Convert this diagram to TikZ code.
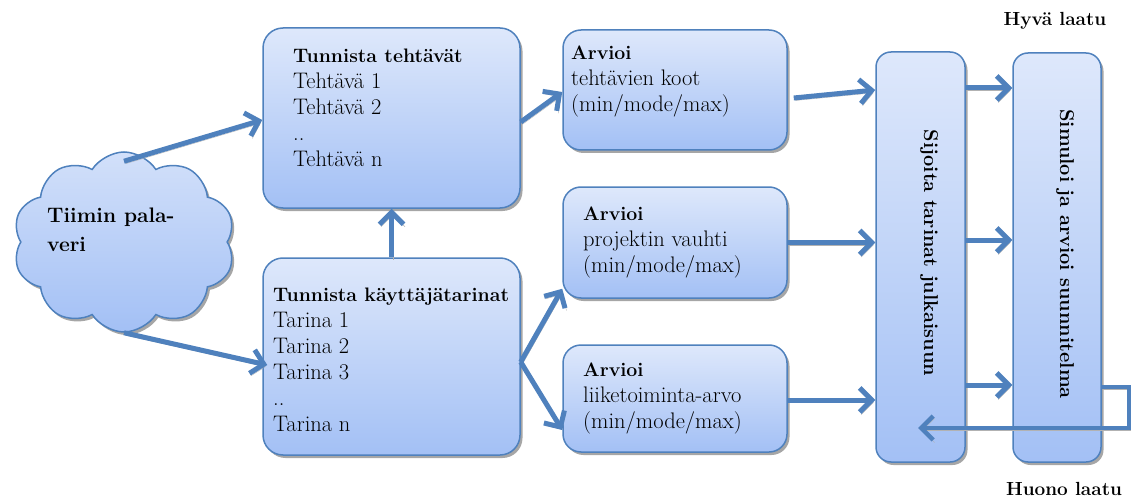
\documentclass[tikz,border=0pt]{standalone}
\usetikzlibrary{arrows.meta,shapes.symbols,shadows}
\definecolor{edgeblue}{RGB}{79,129,189}
\definecolor{topfill}{RGB}{222,232,251}
\definecolor{botfill}{RGB}{163,192,245}
\newcommand{\hd}[1]{{\fontsize{19.5}{26}\selectfont\bfseries #1}}
\tikzset{
  box/.style={draw=edgeblue, line width=1.5pt, rounded corners=#1, top color=topfill, bottom color=botfill,
    drop shadow={shadow xshift=2.5pt, shadow yshift=-3pt, fill=black, opacity=0.35}, inner sep=0pt},
  box/.default=18pt,
  txt/.style={anchor=north west, inner sep=0pt, align=left, font=\fontsize{22.5}{26}\selectfont},
  vtxt/.style={rotate=-90, inner sep=0pt, font=\fontsize{20}{24}\selectfont\bfseries},
  lbl/.style={inner sep=0pt, font=\fontsize{19}{22}\selectfont\bfseries},
  arr/.style={draw=edgeblue, line width=5pt, -{Straight Barb[length=12pt,width=24pt]},
    preaction={draw=black!30, transform canvas={shift={(1.5pt,-2.5pt)}}}},
  fbarr/.style={draw=edgeblue, line width=4.5pt, -{Straight Barb[length=12pt,width=24pt]},
    preaction={draw=black!30, transform canvas={shift={(1.5pt,-2.5pt)}}}},
}
\begin{document}
\begin{tikzpicture}[x=1pt,y=-1pt]
\useasboundingbox (0,0) rectangle (1135,500);
% cloud
\node[cloud, cloud puffs=10, cloud puff arc=115, aspect=1.2, draw=edgeblue, line width=1.5pt,
  top color=topfill!80!botfill, bottom color=botfill, minimum width=222pt, minimum height=180pt,
  drop shadow={shadow xshift=2.5pt, shadow yshift=-3pt, fill=black, opacity=0.35}] (cl) at (124,242) {};
\node[txt, font=\fontsize{21}{29}\selectfont\bfseries] (clt) at (47,208) {Tiimin pala-\\veri};
% boxes
\node[box=20pt, minimum width=257pt, minimum height=180pt] (b1) at (391.5,118) {};
\node[box=20pt, minimum width=257pt, minimum height=197pt] (b2) at (391.5,356.5) {};
\node[box, minimum width=224pt, minimum height=120pt] (b3) at (675,90) {};
\node[box, minimum width=224pt, minimum height=111pt] (b4) at (675,242.5) {};
\node[box, minimum width=224pt, minimum height=107pt] (b5) at (675,398.5) {};
\node[box=15pt, minimum width=89pt, minimum height=410pt] (b6) at (920.5,257) {};
\node[box=15pt, minimum width=88pt, minimum height=409pt] (b7) at (1057,257.5) {};
% texts
\node[txt] (t1) at (293,49) {\hd{Tunnista tehtävät}\\Tehtävä 1\\Tehtävä 2\\..\\Tehtävä n};
\node[txt] (t2) at (273,288) {\hd{Tunnista käyttäjätarinat}\\Tarina 1\\Tarina 2\\Tarina 3\\..\\Tarina n};
\node[txt] (t3) at (571,46) {\hd{Arvioi}\\tehtävien koot\\(min/mode/max)};
\node[txt] (t4) at (583,207) {\hd{Arvioi}\\projektin vauhti\\(min/mode/max)};
\node[txt] (t5) at (583,363) {\hd{Arvioi}\\liiketoiminta-arvo\\(min/mode/max)};
\node[vtxt] (t6) at (929,253) {Sijoita tarinat julkaisuun};
\node[vtxt] (t7) at (1065,254) {Simuloi ja arvioi suunnitelma};
\node[lbl] (hy) at (1055,21) {Hyvä laatu};
\node[lbl] (hu) at (1064,489) {Huono laatu};
% arrows
\draw[arr] ([yshift=-10pt]cl.north) -- ([yshift=-2pt]b1.west);
\draw[arr] (cl.south) -- ([xshift=5pt,yshift=-8.5pt]b2.west);
\draw[arr] (b2.north) -- (b1.south);
\draw[arr] ([yshift=-4pt]b1.east) -- ([yshift=-2pt]b3.west);
\draw[arr] ([yshift=-5.5pt]b2.east) -- ([yshift=10pt]b4.south west);
\draw[arr] ([yshift=-5.5pt]b2.east) -- ([yshift=-31.5pt]b5.west);
\draw[arr] ([xshift=6pt,yshift=-8pt]b3.east) -- ([yshift=167pt]b6.west);
\draw[arr] (b4.east) -- (b4.east -| b6.west);
\draw[arr] ([yshift=-1.5pt]b5.east) -- ([yshift=-1.5pt]b5.east -| b6.west);
\coordinate (r1) at ([yshift=169pt]b6.east);
\coordinate (r2) at ([yshift=17pt]b6.east);
\coordinate (r3) at ([yshift=-128pt]b6.east);
\draw[arr] (r1) -- (r1 -| b7.west);
\draw[arr] (r2) -- (r2 -| b7.west);
\draw[arr] (r3) -- (r3 -| b7.west);
\coordinate (f0) at ([yshift=-129.5pt]b7.east);
\coordinate (fb) at (918,428);
\draw[fbarr] (f0) -- ++(27,0) |- (fb);
\end{tikzpicture}
\end{document}
